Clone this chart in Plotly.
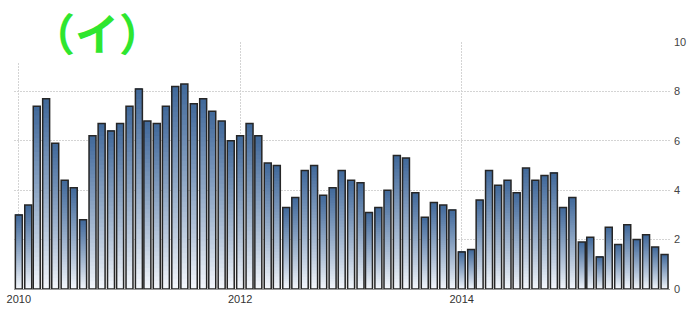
import plotly.graph_objects as go
import pandas as pd

# Monthly values, Jan 2010 .. Nov 2015
values = [3.0, 3.4, 7.4, 7.7, 5.9, 4.4, 4.1, 2.8, 6.2, 6.7, 6.4, 6.7,
          7.4, 8.1, 6.8, 6.7, 7.4, 8.2, 8.3, 7.5, 7.7, 7.2, 6.8, 6.0,
          6.2, 6.7, 6.2, 5.1, 5.0, 3.3, 3.7, 4.8, 5.0, 3.8, 4.1, 4.8,
          4.4, 4.3, 3.1, 3.3, 4.0, 5.4, 5.3, 3.9, 2.9, 3.5, 3.4, 3.2,
          1.5, 1.6, 3.6, 4.8, 4.2, 4.4, 3.9, 4.9, 4.4, 4.6, 4.7, 3.3,
          3.7, 1.9, 2.1, 1.3, 2.5, 1.8, 2.6, 2.0, 2.2, 1.7, 1.4]
start_month = "2010-01-01"
months = pd.date_range(start_month, periods=len(values), freq="MS")
y_tick_vals = [0, 2, 4, 6, 8, 10]
x_tick_vals = ["2010-01-01", "2012-01-01", "2014-01-01"]
x_tick_text = ["2010", "2012", "2014"]
title_text = "（イ）"

fig = go.Figure()

# gradient emulation: overlapping layers, white at bottom to steel blue at top
N = 40
bottom = (246, 249, 253)
top = (64, 104, 154)
bar_w = 23 * 86400000
for k in range(N):
    t = (k + 0.5) / N
    t2 = t ** 0.9
    c = tuple(round(bottom[i] + (top[i] - bottom[i]) * t2) for i in range(3))
    fig.add_trace(go.Bar(
        x=months, y=[v * (N - k) / N for v in values], base=[v * k / N for v in values],
        width=bar_w, marker=dict(color="rgb(%d,%d,%d)" % c, line=dict(width=0)),
        hoverinfo="skip", showlegend=False))

fig.add_trace(go.Bar(
    x=months, y=values, width=bar_w,
    marker=dict(color="rgba(0,0,0,0)", line=dict(color="#262626", width=1.5)),
    showlegend=False))

fig.update_layout(
    barmode="overlay",
    width=700, height=317,
    margin=dict(l=14, r=30, t=42, b=28),
    paper_bgcolor="white", plot_bgcolor="white",
    font=dict(family="Liberation Sans, Arial, sans-serif", size=11, color="#333"),
    xaxis=dict(
        type="date", range=["2009-12-16", "2015-11-19"], automargin=False,
        tickvals=x_tick_vals, ticktext=x_tick_text,
        showgrid=True, gridcolor="#d4d4d4", griddash="2px,1px", gridwidth=1,
        showline=True, linecolor="#999999", linewidth=1,
        zeroline=False, ticks="",
        tickfont=dict(size=11, color="#333333"),
    ),
    yaxis=dict(
        range=[0, 10], side="right", tickvals=y_tick_vals, automargin=False,
        showgrid=True, gridcolor="#d4d4d4", griddash="2px,1px", gridwidth=1,
        zeroline=False, showline=False, ticks="", ticklabelstandoff=3,
        tickfont=dict(size=11, color="#444444"),
    ),
    shapes=[dict(type="rect", xref="paper", yref="paper",
                 x0=-0.03, x1=0.197, y0=0.915, y1=1.1,
                 fillcolor="white", line=dict(width=0), layer="above")],
    annotations=[dict(text="<b>" + title_text + "</b>", xref="paper", yref="paper",
                      x=0.127, y=1.0425, xanchor="center", yanchor="middle",
                      showarrow=False, borderpad=0,
                      font=dict(family="Noto Sans CJK JP", size=44, color="#2fe62f"))],
)

fig.write_html("out.html")
